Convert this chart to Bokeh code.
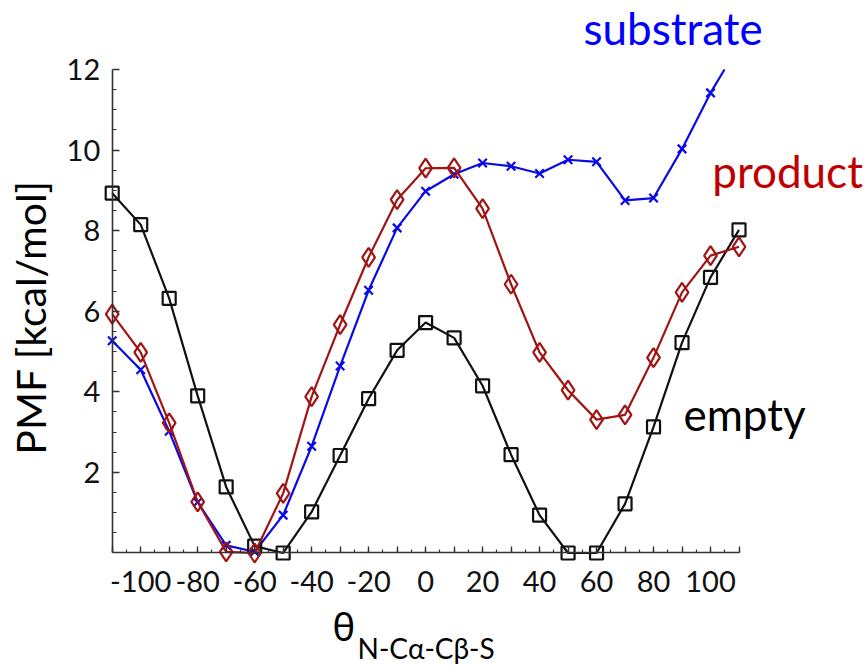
import math
from bokeh.plotting import figure
from bokeh.models import Range1d, FixedTicker, Label, LinearAxis
from bokeh.embed import file_html
from bokeh.resources import INLINE

# ---------------- data ----------------
theta = [-110, -100, -90, -80, -70, -60, -50, -40, -30, -20, -10, 0,
         10, 20, 30, 40, 50, 60, 70, 80, 90, 100, 110]
empty = [8.93, 8.15, 6.32, 3.90, 1.64, 0.17, 0.00, 1.02, 2.42, 3.83, 5.03, 5.72,
         5.34, 4.15, 2.44, 0.94, 0.00, 0.00, 1.22, 3.13, 5.22, 6.84, 8.02]
product = [5.93, 4.98, 3.23, 1.27, 0.03, 0.00, 1.48, 3.88, 5.67, 7.34, 8.77, 9.55,
           9.56, 8.55, 6.67, 4.98, 4.04, 3.31, 3.43, 4.85, 6.47, 7.38, 7.60]
substrate = [5.27, 4.55, 3.02, 1.26, 0.19, 0.03, 0.94, 2.65, 4.64, 6.52, 8.07, 8.98,
             9.40, 9.68, 9.60, 9.42, 9.76, 9.71, 8.75, 8.81, 10.03, 11.42, 12.60]

x_major = [-110, -100, -90, -80, -70, -60, -50, -40, -30, -20, -10, 0,
           10, 20, 30, 40, 50, 60, 70, 80, 90, 100, 110]
x_tick_labels = {-100: "-100", -80: "-80", -60: "-60", -40: "-40", -20: "-20",
                 0: "0", 20: "20", 40: "40", 60: "60", 80: "80", 100: "100"}
y_major = [2, 4, 6, 8, 10, 12]
y_tick_labels = {2: "2", 4: "4", 6: "6", 8: "8", 10: "10", 12: "12"}

series_names = ["substrate", "product", "empty"]
y_title = "PMF [kcal/mol]"
x_title_main = "θ"
x_title_sub = "N-Cα-Cβ-S"

# axis extents (data)
X_MIN, X_MAX = -110, 110
Y_MIN, Y_MAX = 0, 12

# ---------------- styles ----------------
BLUE = "#0a0ae6"
RED = "#a01414"
RED_TXT = "#c00000"
BLACK = "#111111"
AX = "#333333"
FONT = "Lato"


def clip_top(xs, ys, ymax):
    """Clip a polyline at y = ymax (like the plot-area clip of the original)."""
    cx, cy = [xs[0]], [ys[0]]
    for i in range(1, len(xs)):
        x0, y0, x1, y1 = xs[i - 1], ys[i - 1], xs[i], ys[i]
        if y1 <= ymax:
            cx.append(x1); cy.append(y1)
        elif y0 <= ymax:
            t = (ymax - y0) / (y1 - y0)
            cx.append(x0 + t * (x1 - x0)); cy.append(ymax)
            break
        else:
            break
    return cx, cy


p = figure(width=866, height=667, output_backend="svg", toolbar_location=None,
           x_range=Range1d(-149.21, 154.75), y_range=Range1d(-2.842, 13.713),
           x_axis_location=None, y_axis_location=None,
           min_border=0)
p.outline_line_color = None
p.grid.grid_line_color = None
p.background_fill_color = "white"
p.border_fill_color = "white"

# axes drawn at data locations inside the (full-canvas) frame
xa = LinearAxis(fixed_location=Y_MIN, bounds=(X_MIN, X_MAX))
xa.ticker = FixedTicker(ticks=x_major, minor_ticks=list(range(X_MIN, X_MAX + 1, 5)))
xa.major_label_overrides = {t: x_tick_labels.get(t, "") for t in x_major}
ya = LinearAxis(fixed_location=X_MIN, bounds=(Y_MIN, Y_MAX))
ya.ticker = FixedTicker(ticks=y_major, minor_ticks=[i * 0.5 for i in range(1, 24)])
ya.major_label_overrides = y_tick_labels
for ax in (xa, ya):
    ax.major_tick_out = 0
    ax.minor_tick_out = 0
    ax.major_label_text_font = FONT
    ax.major_label_text_font_size = "29px"
    ax.major_label_text_color = BLACK
    ax.axis_line_width = 1.6
    ax.axis_line_color = AX
    ax.major_tick_line_color = AX
    ax.minor_tick_line_color = AX
    ax.major_tick_line_width = 1.4
    ax.minor_tick_line_width = 1.2
xa.major_tick_in = 6
xa.minor_tick_in = 3
xa.major_label_standoff = 18
ya.major_tick_in = 7
ya.minor_tick_in = 4
ya.major_label_standoff = 12
p.add_layout(xa, "below")
p.add_layout(ya, "left")

# series
sx, sy = clip_top(theta, substrate, Y_MAX)
p.line(sx, sy, line_color=BLUE, line_width=2.2)
mx = [x for x, y in zip(theta, substrate) if y <= Y_MAX]
my = [y for y in substrate if y <= Y_MAX]
p.scatter(mx, my, marker="x", size=12, line_color=BLUE, line_width=2.2)

p.line(theta, empty, line_color=BLACK, line_width=2.2)
p.scatter(theta, empty, marker="square", size=13, fill_color=None,
          line_color=BLACK, line_width=2.2)

p.line(theta, product, line_color=RED, line_width=2.2)
p.scatter(theta, product, marker="diamond", size=19, fill_color=None,
          line_color=RED, line_width=2.2)

# series labels
p.add_layout(Label(x=55.4, y=13.03, text=series_names[0], text_color="#0000ff",
                   text_font=FONT, text_font_size="44px",
                   text_align="left", text_baseline="alphabetic"))
p.add_layout(Label(x=100.6, y=9.47, text=series_names[1], text_color=RED_TXT,
                   text_font=FONT, text_font_size="44px",
                   text_align="left", text_baseline="alphabetic"))
p.add_layout(Label(x=90.5, y=3.46, text=series_names[2], text_color="black",
                   text_font=FONT, text_font_size="44px",
                   text_align="left", text_baseline="alphabetic"))

# axis titles
p.add_layout(Label(x=-138.8, y=5.85, text=y_title, angle=math.pi / 2,
                   text_color="black", text_font=FONT, text_font_size="41px",
                   text_align="center", text_baseline="middle"))
p.add_layout(Label(x=-32.7, y=-1.80, text=x_title_main, text_color="black",
                   text_font="Noto Sans", text_font_size="38px",
                   text_align="left", text_baseline="alphabetic"))
p.add_layout(Label(x=-23.9, y=-2.37, text=x_title_sub, text_color="black",
                   text_font=FONT, text_font_size="28px",
                   text_align="left", text_baseline="alphabetic"))

open("out.html", "w").write(file_html(p, INLINE))
